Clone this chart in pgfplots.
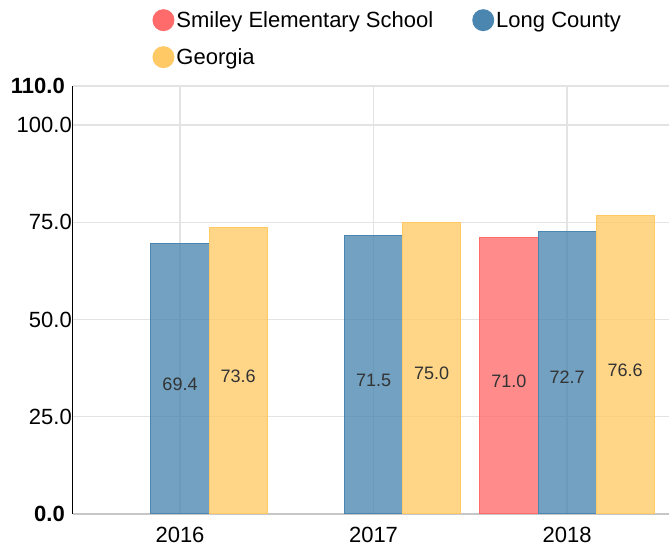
\documentclass[border=0pt]{standalone}
\usepackage{pgfplots}
\pgfplotsset{compat=1.18}
\usepackage{fontspec}
\setmainfont{Liberation Sans}
\definecolor{cred}{HTML}{FF6B6B}
\definecolor{cblue}{HTML}{4A86B0}
\definecolor{cyel}{HTML}{FFC966}
\definecolor{gridc}{HTML}{E3E3E3}
\definecolor{labc}{HTML}{333333}
\pgfplotsset{
  vlab/.style={
    nodes near coords={\pgfmathprintnumber[fixed,fixed zerofill,precision=1]{\pgfplotspointmeta}},
    visualization depends on=y \as \rawy,
    every node near coord/.append style={shift={(axis direction cs:#1,-\rawy/2)}, anchor=center, yshift=-5pt,
      font=\fontsize{18}{22}\selectfont, text=labc, fill opacity=1, text opacity=1},
  },
}
\begin{document}
\begin{tikzpicture}
\begin{axis}[
  scale only axis, width=596pt, height=428pt,
  xmin=-0.553, xmax=2.527, ymin=0, ymax=110,
  axis x line*=bottom, axis y line*=left,
  x axis line style={-, draw=black!22, line width=1.5pt},
  y axis line style={-, draw=black, line width=1pt},
  xtick={0,1,2}, xticklabels={2016,2017,2018},
  ytick={0,25,50,75,100,110},
  yticklabels={\textbf{0.0}\rule{7pt}{0pt},25.0,50.0,75.0,100.0,\textbf{110.0}\rule{7pt}{0pt}},
  major tick length=0pt,
  grid=major, grid style={draw=gridc, line width=1.2pt},
  ticklabel style={font=\fontsize{22}{26}\selectfont},
  yticklabel style={inner sep=1pt},
  xticklabel style={yshift=-10pt},
  /pgf/number format/assume math mode=true,
  clip=false,
  legend columns=2,
  legend cell align=left,
  legend style={at={(0.133,1.18)}, anchor=north west, draw=none, fill=none,
    font=\fontsize{22}{26}\selectfont,
    /tikz/every even column/.append style={column sep=37pt},
    row sep=15pt, inner sep=0pt, nodes={inner sep=2pt}, cells={anchor=west}},
  legend image code/.code={\fill[#1, draw=none] (11pt,0pt) circle (11pt);},
  bar width=0.3,
]
\addlegendimage{fill=cred, draw=none}
\addlegendentry{Smiley Elementary School}
\addlegendimage{fill=cblue, draw=none}
\addlegendentry{Long County}
\addlegendimage{fill=cyel, draw=none}
\addlegendentry{Georgia}

\addplot[ybar, bar shift=-0.3, fill=cred, fill opacity=0.78, draw=cred, line width=1pt, vlab=-0.3, forget plot]
  coordinates {(2,71.0)};
\addplot[ybar, bar shift=0, fill=cblue, fill opacity=0.78, draw=cblue, line width=1pt, vlab=0, forget plot]
  coordinates {(0,69.4) (1,71.5) (2,72.7)};
\addplot[ybar, bar shift=0.3, fill=cyel, fill opacity=0.78, draw=cyel, line width=1pt, vlab=0.3, forget plot]
  coordinates {(0,73.6) (1,75.0) (2,76.6)};

\coordinate (bl) at (rel axis cs:0,0);
\coordinate (tr) at (rel axis cs:1,1);
\end{axis}
\pgfresetboundingbox
\path[use as bounding box] ([shift={(-73pt,-34pt)}]bl) rectangle ([shift={(0pt,86pt)}]tr);
\end{tikzpicture}
\end{document}
